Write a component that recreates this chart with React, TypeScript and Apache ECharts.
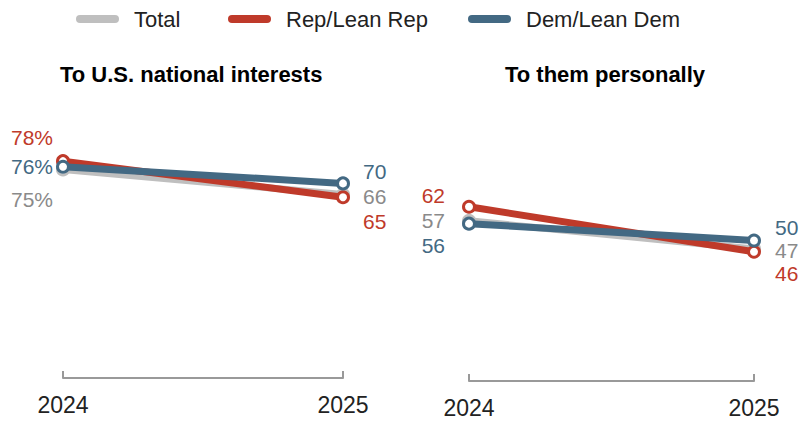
import React, { useEffect, useRef } from "react";
import * as echarts from "echarts";

const years = ["2024", "2025"];
const natTotal = [75, 66];
const natRep = [78, 65];
const natDem = [76, 70];
const perTotal = [57, 47];
const perRep = [62, 46];
const perDem = [56, 50];
const seriesNames = ["Total", "Rep/Lean Rep", "Dem/Lean Dem"];
const panelTitles = ["To U.S. national interests", "To them personally"];

const COLORS: Record<string, string> = {
  Total: "#bfbfbf",
  "Rep/Lean Rep": "#bf3a2a",
  "Dem/Lean Dem": "#436983",
};
const LABEL_COLORS: Record<string, string> = {
  Total: "#8a8a8a",
  "Rep/Lean Rep": "#bf3a2a",
  "Dem/Lean Dem": "#436983",
};

const FONT = "'Liberation Sans', Arial, sans-serif";

function makeSeries(
  name: string,
  values: number[],
  grid: number,
  offsets: number[][],
  dist: number[],
  z: number
) {
  const color = COLORS[name];
  return {
    type: "line",
    name,
    xAxisIndex: grid,
    yAxisIndex: grid,
    z,
    symbol: "circle",
    symbolSize: 11,
    lineStyle: { width: 7, color },
    itemStyle: { color: "#fff", borderColor: color, borderWidth: 3 },
    emphasis: { disabled: true },
    data: values.map((v, i) => ({
      value: v,
      label: {
        show: true,
        position: i === 0 ? "left" : "right",
        distance: dist[i],
        offset: offsets[i],
        color: LABEL_COLORS[name],
        fontSize: 21,
        fontFamily: FONT,
        formatter: grid === 0 && i === 0 ? `${v}%` : `${v}`,
      },
    })),
  };
}

export default function App() {
  const ref = useRef<HTMLDivElement>(null);
  useEffect(() => {
    if (!ref.current) return;
    const chart = echarts.init(ref.current, null, { renderer: "svg" });
    const grids = [
      { left: 63, width: 280, top: 100, height: 278 },
      { left: 469, width: 285, top: 100, height: 281 },
    ];
    const xAxes = grids.map((_, i) => ({
      type: "category",
      gridIndex: i,
      data: years,
      boundaryGap: false,
      axisLine: { lineStyle: { color: "#999", width: 2 } },
      axisTick: { show: true, inside: true, length: 7, lineStyle: { color: "#999", width: 2 } },
      axisLabel: { color: "#222", fontSize: 23, fontFamily: FONT, margin: 15 },
    }));
    const yAxes = grids.map((_, i) => ({
      type: "value",
      gridIndex: i,
      min: 0,
      max: 100,
      show: false,
      splitLine: { show: false },
    }));
    const series = [
      makeSeries(seriesNames[0], natTotal, 0, [[0, 30], [0, 2]], [3, 13], 1),
      makeSeries(seriesNames[1], natRep, 0, [[0, -24], [0, 24]], [3, 13], 2),
      makeSeries(seriesNames[2], natDem, 0, [[0, 0], [0, -12]], [3, 13], 3),
      makeSeries(seriesNames[0], perTotal, 1, [[0, 0], [0, 2]], [17, 14], 1),
      makeSeries(seriesNames[1], perRep, 1, [[0, -11], [0, 22]], [17, 14], 2),
      makeSeries(seriesNames[2], perDem, 1, [[0, 22], [0, -13]], [17, 14], 3),
    ];
    const legendLefts = [76, 228, 468];
    const legends = seriesNames.map((n, i) => ({
      left: legendLefts[i],
      top: 8,
      padding: 0,
      itemWidth: 43,
      itemHeight: 8,
      icon: "path://M4,0 H39 A4,4 0 0 1 39,8 H4 A4,4 0 0 1 4,0 Z",
      selectedMode: false,
      textStyle: { color: "#222", fontSize: 22, fontFamily: FONT, padding: [0, 0, 0, 10] },
      data: [{ name: n, itemStyle: { color: COLORS[n], borderWidth: 0 } }],
    }));
    chart.setOption({
      animation: false,
      backgroundColor: "#fff",
      title: [
        { text: panelTitles[0], left: 60, top: 63, padding: 0, textStyle: { fontSize: 22, fontWeight: "bold", color: "#000", fontFamily: FONT } },
        { text: panelTitles[1], left: 505, top: 63, padding: 0, textStyle: { fontSize: 22, fontWeight: "bold", color: "#000", fontFamily: FONT } },
      ],
      legend: legends,
      grid: grids,
      xAxis: xAxes,
      yAxis: yAxes,
      series,
    });
    return () => chart.dispose();
  }, []);
  return (
    <div
      ref={ref}
      style={{ position: "fixed", left: 0, top: 0, width: 812, height: 421 }}
    />
  );
}
